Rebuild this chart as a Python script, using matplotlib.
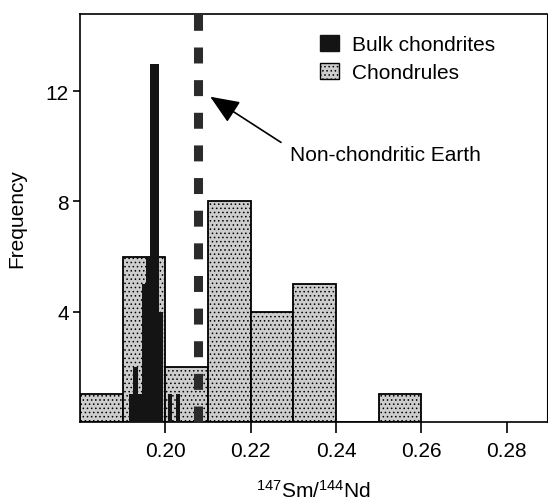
import matplotlib
matplotlib.use("Agg")
import matplotlib.pyplot as plt
from matplotlib.patches import Patch

# ---- data ----
chondrule_bin_left = [0.18, 0.19, 0.20, 0.21, 0.22, 0.23, 0.24, 0.25]
chondrule_counts = [1, 6, 2, 8, 4, 5, 0, 1]
chondrule_bin_width = 0.01

bulk_centers = [0.192, 0.193, 0.194, 0.195, 0.196, 0.197, 0.198, 0.199, 0.201, 0.203]
bulk_counts = [1, 2, 1, 5, 6, 13, 13, 4, 1, 1]
bulk_bin_width = 0.001

earth_value = 0.2077
x_ticks = [0.20, 0.22, 0.24, 0.26, 0.28]
x_tick_labels = ["0.20", "0.22", "0.24", "0.26", "0.28"]
y_ticks = [4, 8, 12]

plt.rcParams['font.family'] = ['Liberation Sans', 'DejaVu Sans']
plt.rcParams['mathtext.default'] = 'regular'
plt.rcParams['lines.scale_dashes'] = False
plt.rcParams['hatch.color'] = '#9a9a9a'
plt.rcParams['hatch.linewidth'] = 0.6

fig = plt.figure(figsize=(5.48, 5.02), dpi=100)
ax = fig.add_axes([80/548, 1-423/502, 467/548, (423-15)/502])

ax.bar(chondrule_bin_left, chondrule_counts, width=chondrule_bin_width, align='edge',
       facecolor='#cdcdcd', edgecolor='black', linewidth=1.3, hatch='....', zorder=2)
ax.bar(bulk_centers, bulk_counts, width=bulk_bin_width, align='center',
       facecolor='#141414', edgecolor='none', zorder=3)
ax.axvline(earth_value, color='#2b2b2b', linewidth=6.5, dashes=(11.5, 12.0),
           zorder=4)

ax.annotate("Non-chondritic Earth", xy=(0.2105, 11.8), xytext=(0.2291, 9.7),
            fontsize=15, ha='left', va='center',
            arrowprops=dict(arrowstyle='-|>,head_length=1.2,head_width=0.5',
                            color='black', lw=1.2, shrinkA=5, shrinkB=0,
                            relpos=(0.0, 0.85)))

ax.set_xlim(0.18, 0.2894)
ax.set_ylim(0, 14.8)
ax.set_xticks(x_ticks)
ax.set_xticklabels(x_tick_labels)
ax.set_yticks(y_ticks)
ax.tick_params(axis='x', direction='out', length=8, width=1.2, labelsize=15, pad=6)
ax.tick_params(axis='y', direction='out', length=5, width=1.2, labelsize=15, pad=3)
for s in ax.spines.values():
    s.set_linewidth(1.2)
ax.spines['right'].set_linewidth(0.8)

ax.set_xlabel(r'$^{147}$Sm/$^{144}$Nd', fontsize=15, labelpad=13)
ax.set_ylabel('Frequency', fontsize=15, labelpad=14)

handles = [Patch(facecolor='#141414', edgecolor='#141414', label='Bulk chondrites'),
           Patch(facecolor='#cdcdcd', edgecolor='black', hatch='....', label='Chondrules')]
ax.legend(handles=handles, loc='upper left', bbox_to_anchor=(0.497, 0.968),
          frameon=False, fontsize=15, handlelength=0.9, handleheight=0.75,
          handletextpad=0.6, labelspacing=0.42, borderaxespad=0)

fig.savefig('out.png', dpi=100)
